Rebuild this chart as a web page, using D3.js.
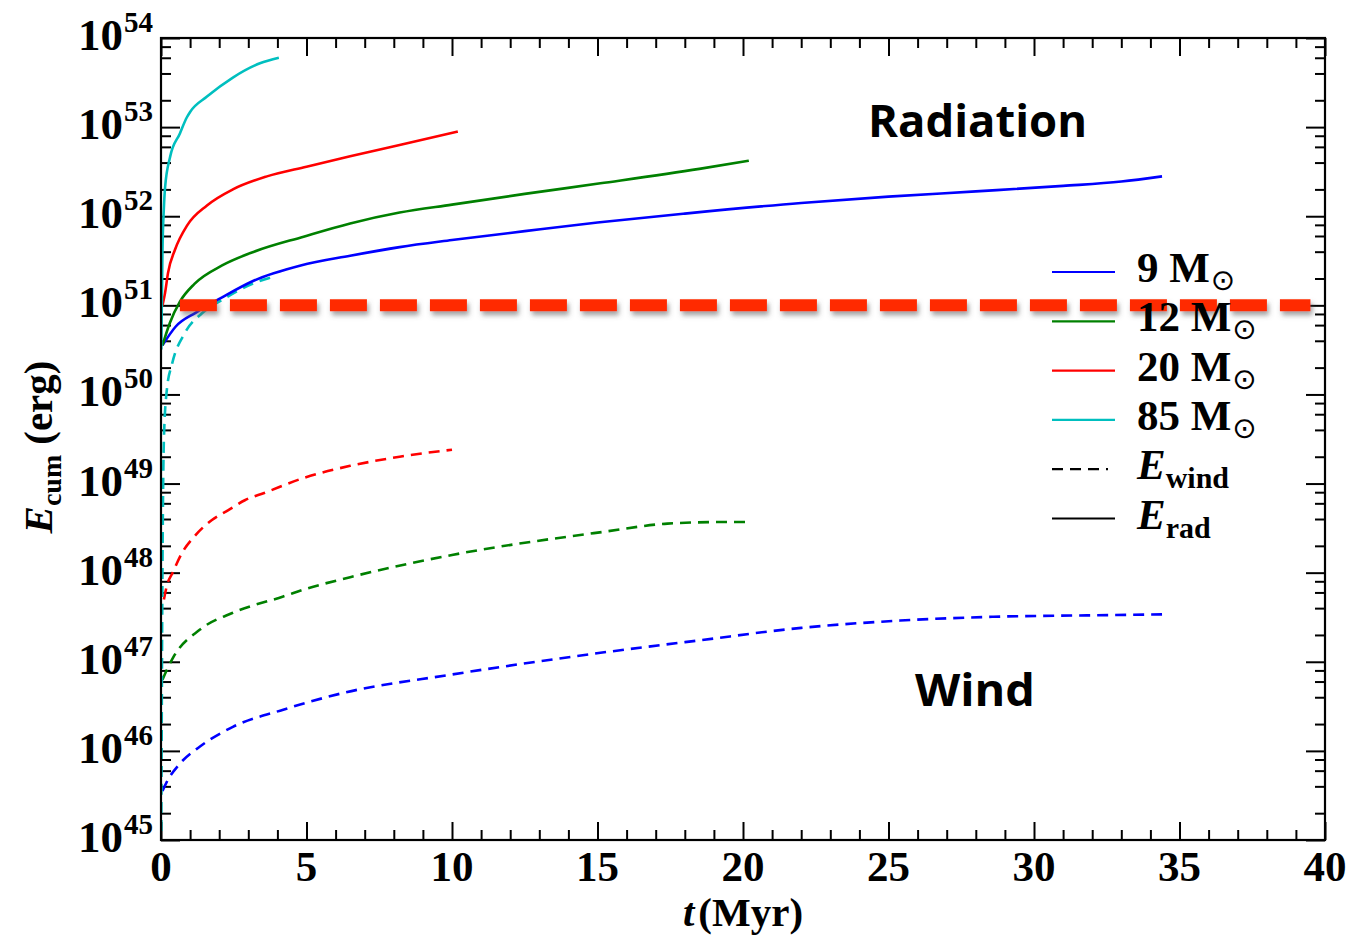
<!DOCTYPE html>
<html>
<head>
<meta charset="utf-8">
<script src="https://cdn.jsdelivr.net/npm/d3@7"></script>
<style>
  body { margin: 0; background: #fff; }
  svg text { font-family: "Liberation Serif", "DejaVu Serif", serif; }
</style>
</head>
<body>
<div id="chart"></div>
<script>
// cumulative energy [t (Myr), E (erg)]
var rad9 = [[0.05,3.55e50],[0.5,5.75e50],[1.2,8.3e50],[2.1,1.23e51],[3.2,1.9e51],[4.8,2.8e51],[6.5,3.6e51],[8.2,4.5e51],[10,5.4e51],[12.5,6.8e51],[15,8.5e51],[18,1.07e52],[22,1.41e52],[25,1.66e52],[28,1.9e52],[31,2.19e52],[33,2.45e52],[34.4,2.8e52]]
var rad12 = [[0.05,3.55e50],[0.3,6.3e50],[0.65,1.1e51],[1.15,1.74e51],[2.1,2.8e51],[3.2,4.0e51],[4.9,5.9e51],[6.5,8.3e51],[8.2,1.1e52],[10,1.35e52],[12.5,1.78e52],[15.1,2.34e52],[18.5,3.4e52],[20.2,4.2e52]]
var rad20 = [[0.05,1.0e51],[0.14,1.38e51],[0.24,2.3e51],[0.48,4.2e51],[0.9,7.9e51],[1.58,1.32e52],[2.47,2.0e52],[3.64,2.8e52],[5,3.6e52],[6.5,4.7e52],[8.2,6.3e52],[10.2,8.9e52]]
var rad85 = [[0.01,3.2e50],[0.05,4.0e51],[0.1,1.26e52],[0.14,2.1e52],[0.31,4.6e52],[0.65,8.5e52],[0.89,1.29e53],[1.0,1.48e53],[1.58,2.2e53],[2.47,3.6e53],[3.4,5.2e53],[4.05,6.0e53]]

var wind9 = [[0.05,3.55e45],[0.2,4.5e45],[0.65,7.2e45],[1.34,1.12e46],[2.47,1.86e46],[4.2,2.9e46],[6.3,4.5e46],[10,7.2e46],[15.1,1.26e47],[18.5,1.74e47],[22,2.4e47],[25.4,2.9e47],[28.6,3.2e47],[31.9,3.32e47],[34.4,3.4e47]]
var wind12 = [[0.05,6.3e46],[0.2,8.1e46],[0.42,1.12e47],[1.34,2.3e47],[2.47,3.55e47],[4.2,5.4e47],[5,6.6e47],[6.5,8.9e47],[10,1.58e48],[15.3,2.9e48],[17.4,3.55e48],[19.3,3.7e48],[20.1,3.7e48]]
var wind20 = [[0.1,5.0e47],[0.2,7.1e47],[0.4,1.0e48],[0.72,1.66e48],[1.17,2.6e48],[1.75,3.9e48],[2.3,5.0e48],[2.88,6.5e48],[3.57,7.9e48],[4.95,1.17e49],[6.5,1.58e49],[8.2,2.0e49],[10,2.4e49]]
var wind85 = [[0.01,1.26e45],[0.05,1.0e48],[0.1,3.2e49],[0.2,1.12e50],[0.38,2.2e50],[0.82,4.9e50],[1.4,8.1e50],[2.1,1.15e51],[3.2,1.78e51],[3.9,2.1e51]]

var masses = ["9", "12", "20", "85"]
var colors = ["#0000ff", "#008000", "#ff0000", "#00bfbf"]
var radSeries = [rad9, rad12, rad20, rad85]
var windSeries = [wind9, wind12, wind20, wind85]

var xTicks = [0, 5, 10, 15, 20, 25, 30, 35, 40]
var yExps = [45, 46, 47, 48, 49, 50, 51, 52, 53, 54]
var snThreshold = 1e51

var svgSize = { width: 1351, height: 936 }
var margin = { top: 38, left: 161, right: 26, bottom: 96 }
var chartSize = {
    width: svgSize.width - margin.left - margin.right,
    height: svgSize.height - margin.top - margin.bottom
}

var svg = d3.select("#chart").append("svg")
    .attr("width", svgSize.width)
    .attr("height", svgSize.height)

var defs = svg.append("defs")
var shadow = defs.append("filter").attr("id", "shadow")
    .attr("filterUnits", "userSpaceOnUse")
    .attr("x", 0).attr("y", 0).attr("width", svgSize.width).attr("height", svgSize.height)
shadow.append("feDropShadow")
    .attr("dx", 2).attr("dy", 4).attr("stdDeviation", 2.5)
    .attr("flood-color", "#555").attr("flood-opacity", 0.55)

var frame = svg.append("g").attr("transform", `translate(${margin.left}, ${margin.top})`)

var xScale = d3.scaleLinear().domain([0, 40]).range([0, chartSize.width])
var yScale = d3.scaleLog().domain([1e45, 1e54]).range([chartSize.height, 0])

// tick positions
var xMinor = d3.range(0, 41).filter(v => v % 5 != 0)
var yMajor = yExps.map(e => Math.pow(10, e))
var yMinor = []
yExps.slice(0, -1).forEach(e => {
    [2, 4, 6, 8].forEach(m => yMinor.push(m * Math.pow(10, e)))
})

function tickAxis(axis, values, size) {
    return axis.tickValues(values).tickSize(size).tickSizeOuter(0).tickFormat("")
}

var axes = frame.append("g").attr("class", "axes")
axes.append("g").attr("transform", `translate(0, ${chartSize.height})`).call(tickAxis(d3.axisBottom(xScale), xTicks, -18))
axes.append("g").attr("transform", `translate(0, ${chartSize.height})`).call(tickAxis(d3.axisBottom(xScale), xMinor, -10))
axes.append("g").call(tickAxis(d3.axisTop(xScale), xTicks, -18))
axes.append("g").call(tickAxis(d3.axisTop(xScale), xMinor, -10))
axes.append("g").call(tickAxis(d3.axisLeft(yScale), yMajor, -19))
axes.append("g").call(tickAxis(d3.axisLeft(yScale), yMinor, -10))
axes.append("g").attr("transform", `translate(${chartSize.width}, 0)`).call(tickAxis(d3.axisRight(yScale), yMajor, -19))
axes.append("g").attr("transform", `translate(${chartSize.width}, 0)`).call(tickAxis(d3.axisRight(yScale), yMinor, -10))
axes.selectAll(".domain").remove()
axes.selectAll(".tick line").attr("stroke", "#000").attr("stroke-width", 2)

// curves
var line = d3.line().x(d => xScale(d[0])).y(d => yScale(d[1])).curve(d3.curveMonotoneX)
var curves = frame.append("g").attr("id", "curves")

windSeries.forEach((s, i) => {
    curves.append("path").datum(s)
        .attr("d", line)
        .attr("fill", "none")
        .attr("stroke", colors[i])
        .attr("stroke-width", 2.6)
        .attr("stroke-dasharray", "11,7")
})
radSeries.forEach((s, i) => {
    curves.append("path").datum(s)
        .attr("d", line)
        .attr("fill", "none")
        .attr("stroke", colors[i])
        .attr("stroke-width", 2.6)
})

// frame box
frame.append("rect")
    .attr("width", chartSize.width).attr("height", chartSize.height)
    .attr("fill", "none").attr("stroke", "#000").attr("stroke-width", 2.2)

// tick labels
frame.append("g").selectAll("text").data(xTicks).enter().append("text")
    .attr("x", d => xScale(d))
    .attr("y", chartSize.height + 41)
    .attr("text-anchor", "middle")
    .attr("font-size", 43)
    .attr("font-weight", "bold")
    .text(d => d)

var yLab = frame.append("g").selectAll("text").data(yExps).enter().append("text")
    .attr("x", -8)
    .attr("y", d => yScale(Math.pow(10, d)) + 12)
    .attr("text-anchor", "end")
    .attr("font-weight", "bold")
yLab.append("tspan").attr("font-size", 45).text("10")
yLab.append("tspan").attr("font-size", 29).attr("dy", -18).attr("dx", 1).text(d => d)

// axis titles
var xt = svg.append("text")
    .attr("x", margin.left + xScale(20))
    .attr("y", 926)
    .attr("text-anchor", "middle")
    .attr("font-size", 41)
    .attr("font-weight", "bold")
xt.append("tspan").attr("font-style", "italic").text("t")
xt.append("tspan").attr("dx", 4).text("(Myr)")

var yt = svg.append("text")
    .attr("transform", "translate(52, 447) rotate(-90)")
    .attr("text-anchor", "middle")
    .attr("font-size", 41)
    .attr("font-weight", "bold")
yt.append("tspan").attr("font-style", "italic").text("E")
yt.append("tspan").attr("font-size", 28).attr("dy", 9).text("cum")
yt.append("tspan").attr("dy", -9).attr("dx", 10).text("(erg)")

// legend
var legend = svg.append("g").attr("transform", "translate(1052, 272)")
var legendRows = masses.map((m, i) => ({ label: m, color: colors[i], dash: null, kind: "mass" }))
legendRows.push({ label: "wind", color: "#000", dash: "11,7", kind: "E" })
legendRows.push({ label: "rad", color: "#000", dash: null, kind: "E" })

var rows = legend.selectAll("g").data(legendRows).enter().append("g")
    .attr("transform", (d, i) => `translate(0, ${i * 49.3})`)
rows.append("line")
    .attr("x1", 0).attr("x2", d => d.dash ? 56 : 63)
    .attr("stroke", d => d.color)
    .attr("stroke-width", 2.2)
    .attr("stroke-dasharray", d => d.dash)
var rowText = rows.append("text")
    .attr("x", 85).attr("y", 10)
    .attr("font-size", 43)
    .attr("font-weight", "bold")
rowText.each(function(d) {
    var t = d3.select(this)
    if (d.kind == "mass") {
        t.append("tspan").text(d.label + " M")
        t.append("tspan").attr("font-size", 29).attr("dy", 8).attr("dx", 1)
            .attr("font-family", "DejaVu Sans").attr("font-weight", "normal").text("\u2299")
    } else {
        t.append("tspan").attr("font-style", "italic").text("E")
        t.append("tspan").attr("font-size", 30).attr("dy", 9).text(d.label)
    }
})

// 10^51 erg reference line
frame.append("line")
    .attr("x1", xScale(0.65)).attr("x2", xScale(39.5))
    .attr("y1", yScale(snThreshold)).attr("y2", yScale(snThreshold))
    .attr("stroke", "#ff2a00")
    .attr("stroke-width", 12)
    .attr("stroke-dasharray", "37,13")
    .attr("filter", "url(#shadow)")

// annotations
svg.append("text").attr("x", 868).attr("y", 137)
    .attr("textLength", 219).attr("lengthAdjust", "spacingAndGlyphs")
    .attr("style", "font-family: 'Open Sans', Lato, sans-serif; font-weight: bold; font-size: 45px")
    .text("Radiation")
svg.append("text").attr("x", 915).attr("y", 706)
    .attr("textLength", 120).attr("lengthAdjust", "spacingAndGlyphs")
    .attr("style", "font-family: 'Open Sans', Lato, sans-serif; font-weight: bold; font-size: 45px")
    .text("Wind")
</script>
</body>
</html>
